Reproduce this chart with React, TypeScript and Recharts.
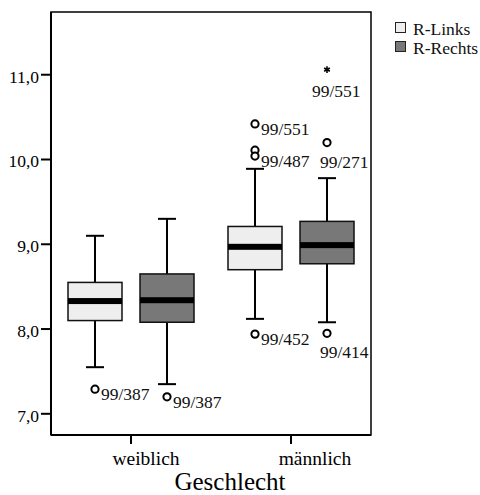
import { BarChart, Bar, XAxis, YAxis, ReferenceArea, Legend } from "recharts";

const categories = ["weiblich", "männlich"];
const seriesNames = ["R-Links", "R-Rechts"];

// R-Links
const linksLow = [7.55, 8.12];
const linksQ1 = [8.1, 8.7];
const linksMedian = [8.33, 8.97];
const linksQ3 = [8.55, 9.21];
const linksHigh = [9.1, 9.89];

// R-Rechts
const rechtsLow = [7.35, 8.08];
const rechtsQ1 = [8.08, 8.77];
const rechtsMedian = [8.34, 8.99];
const rechtsQ3 = [8.65, 9.27];
const rechtsHigh = [9.3, 9.78];

type Outlier = { value: number; label: string; extreme?: boolean };

const linksOutliers: Outlier[][] = [
  [{ value: 7.29, label: "99/387" }],
  [
    { value: 10.42, label: "99/551" },
    { value: 10.11, label: "" },
    { value: 10.04, label: "99/487" },
    { value: 7.94, label: "99/452" },
  ],
];
const rechtsOutliers: Outlier[][] = [
  [{ value: 7.2, label: "99/387" }],
  [
    { value: 11.06, label: "99/551", extreme: true },
    { value: 10.2, label: "99/271" },
    { value: 7.95, label: "99/414" },
  ],
];

const yTicks = [7, 8, 9, 10, 11];
const yDomain = [6.75, 11.74];

const FONT = "'Liberation Serif', 'Times New Roman', serif";
const LIGHT = "#eeeeee";
const DARK = "#787878";

const data = categories.map((cat, i) => ({
  cat,
  links: {
    low: linksLow[i],
    q1: linksQ1[i],
    median: linksMedian[i],
    q3: linksQ3[i],
    high: linksHigh[i],
    outliers: linksOutliers[i],
  },
  rechts: {
    low: rechtsLow[i],
    q1: rechtsQ1[i],
    median: rechtsMedian[i],
    q3: rechtsQ3[i],
    high: rechtsHigh[i],
    outliers: rechtsOutliers[i],
  },
}));

// asterisk marker for extreme values
const Star = ({ cx, cy }: { cx: number; cy: number }) => {
  const r = 3.3;
  return (
    <g stroke="#000" strokeWidth={1.6}>
      <line x1={cx} x2={cx} y1={cy - r} y2={cy + r} />
      <line x1={cx - r * 0.87} x2={cx + r * 0.87} y1={cy - r * 0.5} y2={cy + r * 0.5} />
      <line x1={cx - r * 0.87} x2={cx + r * 0.87} y1={cy + r * 0.5} y2={cy - r * 0.5} />
    </g>
  );
};

const makeBox = (key: "links" | "rechts", fill: string) => (props: any) => {
  const { x, y, width, height, payload } = props;
  const s = payload[key];
  // bar spans [low, high] on the y scale, so other values map linearly onto it
  const py = (v: number) => y + (height * (s.high - v)) / (s.high - s.low);
  const cx = x + width / 2;
  const below = key === "rechts" && payload.cat === "männlich";
  return (
    <g>
      <line x1={cx} x2={cx} y1={py(s.high)} y2={py(s.q3)} stroke="#000" strokeWidth={2} />
      <line x1={cx} x2={cx} y1={py(s.q1)} y2={py(s.low)} stroke="#000" strokeWidth={2} />
      <line x1={cx - 9} x2={cx + 9} y1={py(s.high)} y2={py(s.high)} stroke="#000" strokeWidth={2} />
      <line x1={cx - 9} x2={cx + 9} y1={py(s.low)} y2={py(s.low)} stroke="#000" strokeWidth={2} />
      <rect
        x={x}
        y={py(s.q3)}
        width={width}
        height={py(s.q1) - py(s.q3)}
        fill={fill}
        stroke="#111"
        strokeWidth={1.5}
      />
      <rect x={x} y={py(s.median) - 3} width={width} height={6} fill="#000" />
      {s.outliers.map((o: Outlier, k: number) => {
        const oy = py(o.value);
        return (
          <g key={k}>
            {o.extreme ? (
              <Star cx={cx} cy={oy} />
            ) : (
              <circle cx={cx} cy={oy} r={3.6} fill="#fff" stroke="#000" strokeWidth={2} />
            )}
            {o.label && (
              <text
                x={below ? cx - (o.extreme ? 15 : 7) : cx + 6}
                y={below ? oy + (o.extreme ? 27 : 25) : oy + 11}
                fontSize={17.5}
                fontFamily={FONT}
                fill="#111"
              >
                {o.label}
              </text>
            )}
          </g>
        );
      })}
    </g>
  );
};

const XTick = ({ x, y, payload, index }: any) => {
  const shift = [15, 24][index] ?? 0;
  return (
    <text x={x + shift} y={y + 19} textAnchor="middle" fontSize={19.5} fontFamily={FONT} fill="#000">
      {payload.value}
    </text>
  );
};

const YTick = ({ x, y, payload }: any) => (
  <text x={x} y={y + 8} textAnchor="end" fontSize={17.5} fontFamily={FONT} fill="#000">
    {Number(payload.value).toFixed(1).replace(".", ",")}
  </text>
);

const renderLegend = (props: any) => {
  const items = props.payload ?? [];
  return (
    <div style={{ fontFamily: FONT, fontSize: 17.5, lineHeight: "19px", color: "#111" }}>
      {items.map((it: any) => (
        <div key={it.value} style={{ display: "flex", alignItems: "flex-start" }}>
          <span
            style={{
              display: "inline-block",
              width: 9,
              height: 9,
              marginTop: 2,
              marginRight: 7,
              background: it.color,
              border: "1px solid #222",
            }}
          />
          <span>{it.value}</span>
        </div>
      ))}
    </div>
  );
};

export default function App() {
  return (
    <div style={{ position: "absolute", left: 0, top: 0, background: "#fff" }}>
      <BarChart
        width={480}
        height={495}
        data={data}
        margin={{ top: 12, right: 109, bottom: 0, left: 0 }}
        barSize={54}
        barGap={18}
      >
        <ReferenceArea
          x1={categories[0]}
          x2={categories[1]}
          y1={yDomain[0]}
          y2={yDomain[1]}
          fill="none"
          stroke="#000"
          strokeWidth={1.5}
          ifOverflow="visible"
        />
        <XAxis
          dataKey="cat"
          height={60}
          interval={0}
          tickSize={9}
          axisLine={{ stroke: "#000", strokeWidth: 2 }}
          tickLine={{ stroke: "#000", strokeWidth: 2 }}
          tick={<XTick />}
          label={{
            value: "Geschlecht",
            position: "insideBottom",
            offset: 5,
            dx: 19,
            fontSize: 25,
            fontFamily: FONT,
            fill: "#000",
          }}
        />
        <YAxis
          domain={yDomain}
          ticks={yTicks}
          allowDataOverflow
          width={51}
          tickSize={10}
          axisLine={{ stroke: "#000", strokeWidth: 2 }}
          tickLine={{ stroke: "#000", strokeWidth: 2 }}
          tick={<YTick />}
        />
        <Legend
          layout="vertical"
          align="center"
          verticalAlign="middle"
          content={renderLegend}
          wrapperStyle={{ top: 20, left: 395, width: "auto", height: "auto" }}
        />
        <Bar
          name={seriesNames[0]}
          dataKey={(d: any) => [d.links.low, d.links.high]}
          fill={LIGHT}
          shape={makeBox("links", LIGHT)}
          isAnimationActive={false}
        />
        <Bar
          name={seriesNames[1]}
          dataKey={(d: any) => [d.rechts.low, d.rechts.high]}
          fill={DARK}
          shape={makeBox("rechts", DARK)}
          isAnimationActive={false}
        />
      </BarChart>
    </div>
  );
}
